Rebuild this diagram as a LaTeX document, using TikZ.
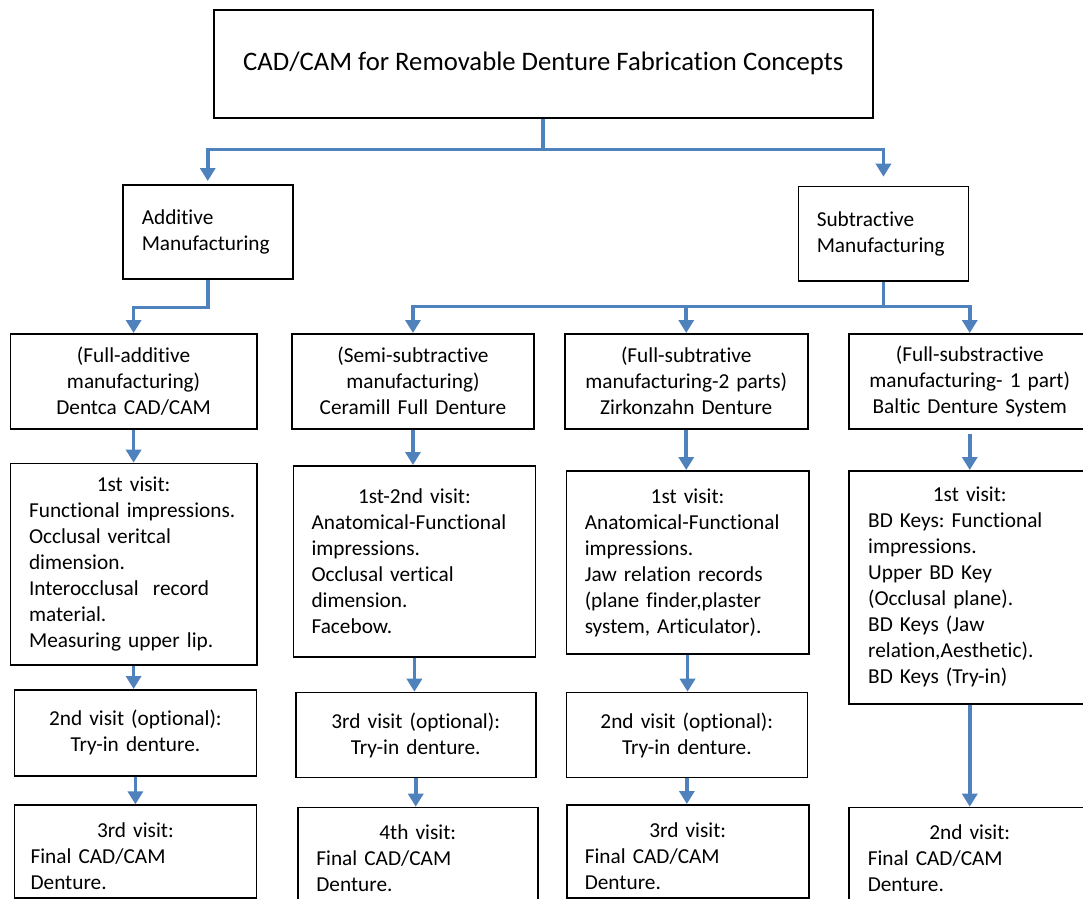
\documentclass[tikz,border=0pt]{standalone}
\usepackage{fontspec}
\setmainfont{Carlito}[Ligatures=NoCommon]
\usetikzlibrary{arrows.meta,positioning,calc}
\definecolor{flowblue}{RGB}{79,129,189}
\newcommand{\bodysize}{\fontsize{21.3}{26}\selectfont\frenchspacing}
\newcommand{\hd}[1]{\makebox[\linewidth]{#1}}

\begin{document}
\begin{tikzpicture}[x=1pt,y=-1pt,>={Triangle[width=15pt,length=13pt]},
  box/.style={draw,line width=1.5pt,anchor=north west,inner xsep=18pt,inner ysep=0pt,font=\bodysize},
  cbox/.style={box,align=center},
  lbox/.style={box,align=left},
  flow/.style={draw=flowblue,line width=3.6pt}]
\useasboundingbox (0,0) rectangle (1083,898);
\clip (0,0) rectangle (1083,898);
% top levels
\node[cbox,font=\fontsize{26.7}{32}\selectfont,inner xsep=0pt,minimum width=659pt,minimum height=108pt] (title) at (213,9) {CAD/CAM for Removable Denture Fabrication Concepts};
\node[lbox,inner xsep=19pt,text width=132pt,minimum height=94pt] (add) at (122,184) {Additive\\Manufacturing};
\node[lbox,inner xsep=18.3pt,text width=133.4pt,minimum height=94.3pt] (sub) at (797.7,185.7) {Subtractive\\Manufacturing};
% concepts
\node[cbox,text width=210.3pt,minimum height=95pt] (dm) at (9.7,333) {(Full-additive\\manufacturing)\\Dentca CAD/CAM};
\node[cbox,text width=205.6pt,minimum height=95pt] (cer) at (291.4,333) {(Semi-subtractive\\manufacturing)\\Ceramill Full Denture};
\node[cbox,text width=207pt,minimum height=95pt] (zirk) at (564,333) {(Full-subtrative\\manufacturing-2 parts)\\Zirkonzahn Denture};
\node[cbox,text width=206pt,minimum height=95pt] (bal) at (848,333) {(Full-substractive\\manufacturing- 1 part)\\Baltic Denture System};
% first visits
\node[lbox,inner xsep=18.6pt,text width=209.1pt,minimum height=201.3pt] (dv1) at (9.7,462.7) {\hd{1st visit:}\\Functional impressions.\\Occlusal veritcal\\dimension.\\Interocclusal\ \ record\\material.\\Measuring upper lip.};
\node[lbox,inner xsep=18pt,text width=205.7pt,minimum height=191.3pt] (cv1) at (292.8,465) {\hd{1st-2nd visit:}\\Anatomical-Functional\\impressions.\\Occlusal vertical\\dimension.\\Facebow.};
\node[lbox,inner xsep=18.4pt,text width=205.6pt,minimum height=183.3pt] (zv1) at (565.6,470) {\hd{1st visit:}\\Anatomical-Functional\\impressions.\\Jaw relation records\\(plane finder,plaster\\system, Articulator).};
\node[lbox,inner xsep=19.4pt,text width=203.2pt,minimum height=233pt] (bv1) at (848,470) {\hd{1st visit:}\\BD Keys: Functional\\impressions.\\Upper BD Key\\(Occlusal plane).\\BD Keys (Jaw\\relation,Aesthetic).\\BD Keys (Try-in)};
% try-in visits
\node[cbox,text width=205.7pt,minimum height=86pt] (dv2) at (13.8,689) {2nd visit (optional):\\Try-in denture.};
\node[cbox,text width=204pt,minimum height=85pt] (cv2) at (295,691.7) {3rd visit (optional):\\Try-in denture.};
\node[cbox,text width=205pt,minimum height=85pt] (zv2) at (565.6,691.7) {2nd visit (optional):\\Try-in denture.};
% final visits
\node[lbox,inner xsep=16pt,text width=209.7pt,minimum height=93pt,text height=24pt] (dv3) at (13.8,804.3) {\hd{3rd visit:}\\Final CAD/CAM\\Denture.};
\node[lbox,inner xsep=18.6pt,text width=202.8pt,minimum height=93pt,text height=24pt] (cv3) at (297,806.7) {\hd{4th visit:}\\Final CAD/CAM\\Denture.};
\node[lbox,inner xsep=18pt,text width=206pt,minimum height=93pt,text height=24pt] (zv3) at (566,804) {\hd{3rd visit:}\\Final CAD/CAM\\Denture.};
\node[lbox,inner xsep=19pt,text width=204pt,minimum height=93pt,text height=24pt] (bv3) at (848,806.7) {\hd{2nd visit:}\\Final CAD/CAM\\Denture.};
% arrows
\draw[flow] (title.south) -- ++(0,31) coordinate (tj);
\draw[flow,->,shorten >=3pt] (tj) -| (add.north);
\draw[flow,->,shorten >=9pt] (tj) -| (sub.north);
\draw[flow,->] (add.south) -- ++(0,28) -| (dm.north);
\draw[flow] (sub.south) -- ++(0,25) coordinate (sj);
\draw[flow,->] (sj) -| (cer.north);
\draw[flow,->] (sj) -| (bal.north);
\draw[flow,->] (sj -| zirk.north) -- (zirk.north);
\foreach \a/\b in {dm/dv1,dv1/dv2,dv2/dv3,cer/cv1,cv1/cv2,cv2/cv3,zirk/zv1,zv1/zv2,zv2/zv3,bv1/bv3}
  \draw[flow,->] (\a.south) -- (\a.south |- \b.north);
\draw[flow,->,shorten <=4pt] (bal.south) -- (bal.south |- bv1.north);
\end{tikzpicture}
\end{document}
